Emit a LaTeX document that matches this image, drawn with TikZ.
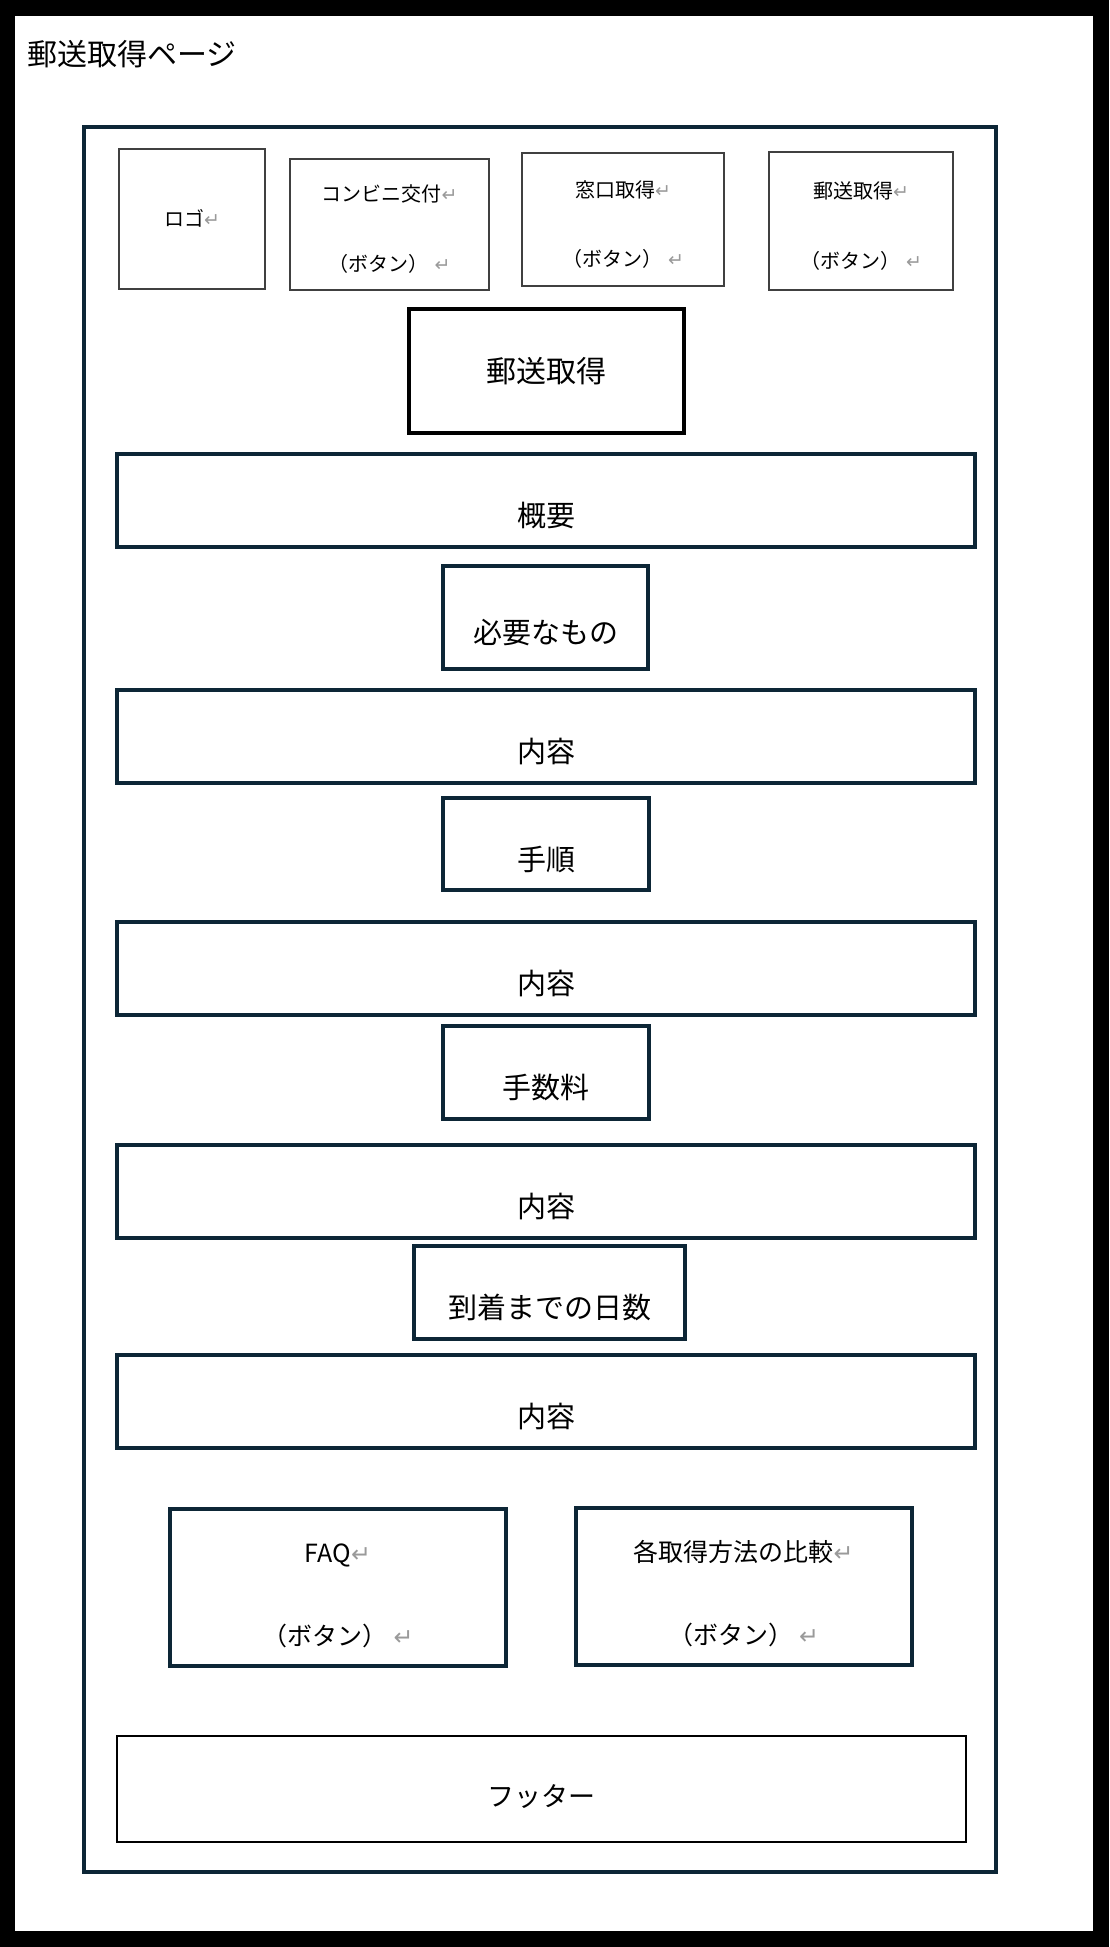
\documentclass[tikz,border=0pt]{standalone}
\usepackage{fontspec}
\setmainfont{Noto Sans CJK JP}
\newfontfamily\arrowfont{DejaVu Sans}
\usepackage{tikz}

\definecolor{navy}{HTML}{0D2636}
\definecolor{markgray}{HTML}{9A9A9A}
\newcommand{\ret}{{\arrowfont\color{markgray}\scalebox{.95}{↵}}}
\newcommand{\twolines}[3]{\begin{tabular}[b]{@{}c@{}}#1\ret\\[#3]（ボタン）\hspace{6pt}\ret\end{tabular}}

\begin{document}
\begin{tikzpicture}[x=1pt,y=-1pt,semithick]
  \tikzstyle{thinbox}=[draw=black!75,line width=1.5pt,inner sep=0pt,font=\fontsize{20}{24}\selectfont,text height=94pt,text depth=0pt]
  \tikzstyle{navybox}=[draw=navy,line width=4pt,inner sep=0pt,font=\fontsize{29}{35}\selectfont,text height=52pt,text depth=0pt]
  \tikzstyle{wide}=[minimum width=858pt,minimum height=93pt]
  \tikzstyle{navybutton}=[draw=navy,line width=4pt,inner sep=0pt,font=\fontsize{25}{30}\selectfont,minimum width=336pt,minimum height=157pt,text height=116pt,text depth=0pt]

  \useasboundingbox (0,0) rectangle (1109,1947);
  \fill[black] (0,0) rectangle (1109,1947);
  \fill[white] (15,16) rectangle (1093,1931);

  \node[anchor=west,inner sep=0pt,font=\fontsize{30}{36}\selectfont] (title) at (27,54) {郵送取得ページ};
  \node[draw=navy,line width=4pt,minimum width=912pt,minimum height=1745pt] (page) at (540,999.5) {};

  % header row
  \node[thinbox,minimum width=146pt,minimum height=140pt,text height=15pt] (logo) at (192,219) {ロゴ\ret};
  \node[thinbox,minimum width=199pt,minimum height=131pt] (konbini)   at (389.5,224.5) {\twolines{コンビニ交付}{}{46pt}};
  \node[thinbox,minimum width=202pt,minimum height=133pt] (madoguchi) at (623,219.5)   {\twolines{窓口取得}{}{45pt}};
  \node[thinbox,minimum width=184pt,minimum height=138pt] (yusobtn)   at (861,221)     {\twolines{郵送取得}{}{45pt}};

  \node[draw=black,line width=4pt,minimum width=275pt,minimum height=124pt,font=\fontsize{30}{36}\selectfont] (heading) at (546.5,371) {郵送取得};

  % sections
  \node[navybox,wide]                                     (gaiyo)   at (546,500.5)    {概要};
  \node[navybox,minimum width=205pt,minimum height=103pt] (hitsuyo) at (545.5,617.5)  {必要なもの};
  \node[navybox,wide]                                     (naiyoA)  at (546,736.5)    {内容};
  \node[navybox,minimum width=206pt,minimum height=92pt]  (tejun)   at (546,844)      {手順};
  \node[navybox,wide]                                     (naiyoB)  at (546,968.5)    {内容};
  \node[navybox,minimum width=206pt,minimum height=93pt]  (tesuryo) at (546,1072.5)   {手数料};
  \node[navybox,wide]                                     (naiyoC)  at (546,1191.5)   {内容};
  \node[navybox,minimum width=271pt,minimum height=93pt]  (tochaku) at (549.5,1292.5) {到着までの日数};
  \node[navybox,wide]                                     (naiyoD)  at (546,1401.5)   {内容};

  % buttons
  \node[navybutton] (faq)    at (338,1587.5)   {\twolines{FAQ}{}{53pt}};
  \node[navybutton] (hikaku) at (743.5,1586.5) {\twolines{各取得方法の比較}{}{53pt}};

  \node[draw=black,line width=1.2pt,minimum width=849pt,minimum height=106pt,font=\fontsize{27}{32}\selectfont,text height=35pt,text depth=0pt] (footer) at (541.5,1789) {フッター};
\end{tikzpicture}
\end{document}
